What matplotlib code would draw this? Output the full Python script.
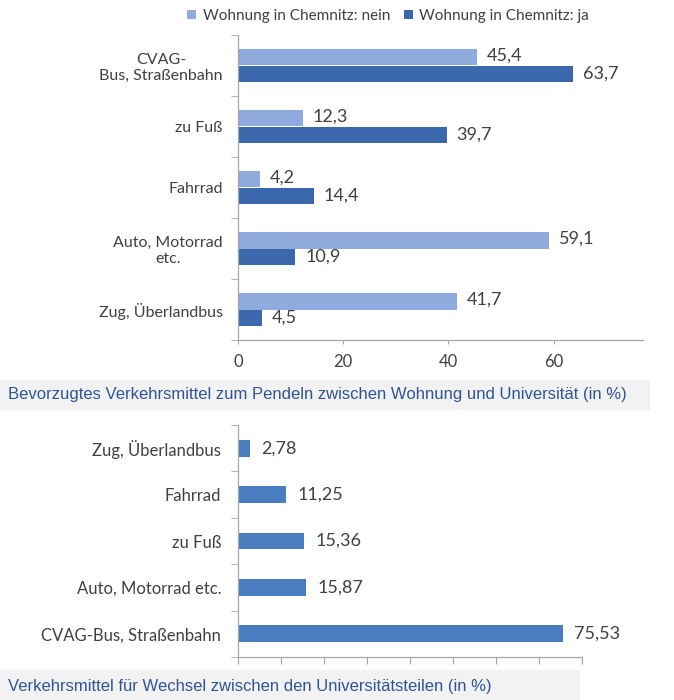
import numpy as np
import matplotlib
matplotlib.use("Agg")
import matplotlib.pyplot as plt
from matplotlib.patches import Rectangle, Patch

# top chart: commuting between home and university
top_categories = ["CVAG-\nBus, Straßenbahn", "zu Fuß", "Fahrrad", "Auto, Motorrad\netc.", "Zug, Überlandbus"]
top_nein = [45.4, 12.3, 4.2, 59.1, 41.7]
top_ja = [63.7, 39.7, 14.4, 10.9, 4.5]
top_series = ["Wohnung in Chemnitz: nein", "Wohnung in Chemnitz: ja"]
top_title = "Bevorzugtes Verkehrsmittel zum Pendeln zwischen Wohnung und Universität (in %)"

# bottom chart: moving between university sites
bottom_categories = ["Zug, Überlandbus", "Fahrrad", "zu Fuß", "Auto, Motorrad etc.", "CVAG-Bus, Straßenbahn"]
bottom_values = [2.78, 11.25, 15.36, 15.87, 75.53]
bottom_title = "Verkehrsmittel für Wechsel zwischen den Universitätsteilen (in %)"

LIGHT = "#8FAADC"
DARK = "#3B68AC"
MID = "#4A7CC0"
AXIS = "#A6A6A6"
TEXT = "#404040"
CAPTION = "#2F5597"
LABEL_FONT = ["Lato", "DejaVu Sans"]


def fmt(v, digits):
    return f"{v:.{digits}f}".replace(".", ",")


def style_axes(ax, n, pad, fs):
    for s in ["top", "right"]:
        ax.spines[s].set_visible(False)
    for s in ["left", "bottom"]:
        ax.spines[s].set_color(AXIS)
        ax.spines[s].set_linewidth(0.9)
    ax.set_ylim(n - 0.5, -0.5)
    ax.set_yticks(np.arange(n + 1) - 0.5, minor=True)
    ax.tick_params(axis="y", which="major", length=0, pad=pad, labelcolor=TEXT, labelsize=fs)
    ax.tick_params(axis="y", which="minor", length=5, color=AXIS, direction="out")
    for lbl in ax.get_yticklabels():
        lbl.set_fontfamily(LABEL_FONT)
        lbl.set_multialignment("center")


fig = plt.figure(figsize=(6.74, 7.0), dpi=100)
fig.patch.set_facecolor("white")

# ---- top chart
ax1 = fig.add_axes([238 / 674, 1 - 340 / 700, 405 / 674, 305 / 700])
y = np.arange(len(top_categories))
h = 0.27
ax1.barh(y - h / 2, top_nein, height=h, color=LIGHT, label=top_series[0])
ax1.barh(y + h / 2, top_ja, height=h, color=DARK, label=top_series[1])
ax1.set_yticks(y)
ax1.set_yticklabels(top_categories)
style_axes(ax1, len(top_categories), 11, 11.5)
ax1.set_xlim(0, 77)
ax1.set_xticks([0, 20, 40, 60])
ax1.tick_params(axis="x", length=3, color=AXIS, labelcolor=TEXT, labelsize=12, pad=7)
for lbl in ax1.get_xticklabels():
    lbl.set_fontfamily(LABEL_FONT)
for i in range(len(top_categories)):
    ax1.annotate(fmt(top_nein[i], 1), (top_nein[i], i - h / 2), xytext=(7, 1),
                 textcoords="offset points", va="center", ha="left", fontsize=13,
                 color=TEXT, family=LABEL_FONT)
    ax1.annotate(fmt(top_ja[i], 1), (top_ja[i], i + h / 2), xytext=(7, 0),
                 textcoords="offset points", va="center", ha="left", fontsize=13,
                 color=TEXT, family=LABEL_FONT)

handles = [Patch(facecolor=LIGHT), Patch(facecolor=DARK)]
fig.legend(handles, top_series, loc="center", bbox_to_anchor=(388 / 674, 1 - 16 / 700),
           ncol=2, frameon=False, handlelength=0.6, handleheight=0.6,
           handletextpad=0.4, columnspacing=0.9, labelcolor=TEXT,
           prop={"family": LABEL_FONT, "size": 11})

# ---- bottom chart
ax2 = fig.add_axes([238 / 674, 1 - 657 / 700, 344 / 674, 232 / 700])
yb = np.arange(len(bottom_categories))
ax2.barh(yb, bottom_values, height=0.36, color=MID)
ax2.set_yticks(yb)
ax2.set_yticklabels(bottom_categories)
style_axes(ax2, len(bottom_categories), 12, 12)
ax2.set_xlim(0, 80)
ax2.set_xticks(np.arange(0, 81, 10))
ax2.set_xticklabels([])
ax2.tick_params(axis="x", length=5, color=AXIS)
for i, v in enumerate(bottom_values):
    ax2.annotate(fmt(v, 2), (v, i), xytext=(8, 0), textcoords="offset points",
                 va="center", ha="left", fontsize=13, color=TEXT, family=LABEL_FONT)

# ---- caption bands
fig.add_artist(Rectangle((0, 1 - 410 / 700), 650 / 674, 30 / 700, transform=fig.transFigure,
                         facecolor="#F2F2F2", edgecolor="none", zorder=0))
fig.text(8 / 674, 1 - 395 / 700, top_title, fontsize=12, color=CAPTION,
         family="Liberation Sans", va="center", ha="left")
fig.add_artist(Rectangle((0, 1 - 700 / 700), 580 / 674, 30 / 700, transform=fig.transFigure,
                         facecolor="#F2F2F2", edgecolor="none", zorder=0))
fig.text(8 / 674, 1 - 686 / 700, bottom_title, fontsize=12, color=CAPTION,
         family="Liberation Sans", va="center", ha="left")

fig.savefig("out.png", dpi=100)
